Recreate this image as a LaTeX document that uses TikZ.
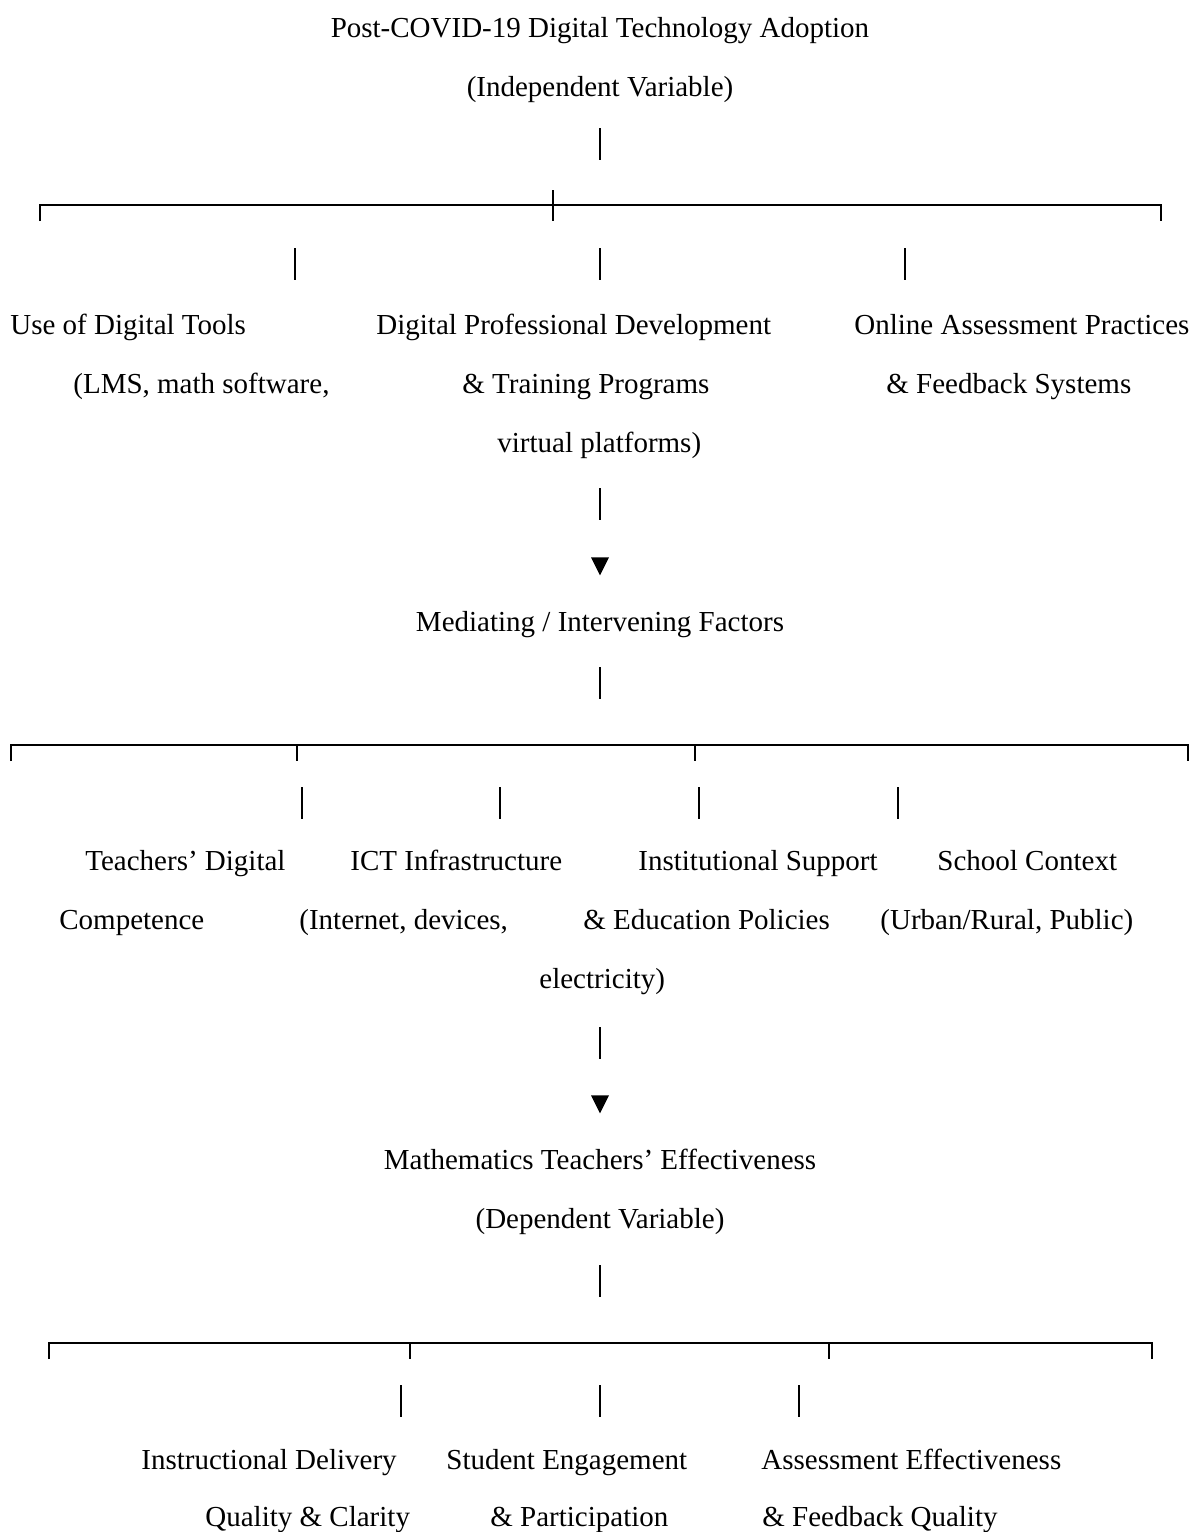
\documentclass[tikz,border=0pt]{standalone}
\usepackage{fontspec}
\setmainfont{Liberation Serif}
\usetikzlibrary{shapes.geometric}

\tikzset{
  txt/.style={inner sep=0pt, font=\fontsize{14.5}{17}\selectfont},
  lbl/.style={txt, anchor=base west},
  ctr/.style={txt, anchor=base},
  bar/.style={line width=1.1pt},
  rail/.style={line width=1.2pt},
  tip/.style={isosceles triangle, isosceles triangle stretches,
    shape border rotate=-90, fill=black, inner sep=0pt,
    minimum width=9pt, minimum height=9pt}
}

\begin{document}
\begin{tikzpicture}[x=0.5pt, y=-0.5pt]
  \useasboundingbox (0,0) rectangle (1189,1532);

  % independent variable:
  \node(post)[ctr] at (600,37) {Post-COVID-19 Digital Technology Adoption};
  \node(indep)[ctr] at (600,96) {(Independent Variable)};
  \coordinate (b1t) at (600,128);
  \coordinate (b1b) at (600,160);
  \draw[bar] (b1t) -- (b1b);

  \coordinate (r1w) at (40,205);
  \coordinate (r1e) at (1161,205);
  \coordinate (r1m) at (553,205);
  \draw[rail] (r1w) ++(0,16) -- (r1w) -- (r1e) -- ++(0,16);
  \draw[rail] (r1m) ++(0,-15) -- ++(0,31);

  \foreach \x [count=\i] in {295,600,905} {
    \coordinate (u\i t) at (\x,248);
    \coordinate (u\i b) at (\x,280);
    \draw[bar] (u\i t) -- (u\i b);
  }

  \node(tools)[lbl] at (10,334) {Use of Digital Tools};
  \node(tools2)[lbl] at (73,393) {(LMS, math software,};
  \node(prof)[lbl] at (376,334) {Digital Professional Development};
  \node(prof2)[lbl] at (462,393) {\& Training Programs};
  \node(prof3)[lbl] at (497,452) {virtual platforms)};
  \node(online)[lbl] at (854,334) {Online Assessment Practices};
  \node(online2)[lbl] at (886,393) {\& Feedback Systems};

  \coordinate (b3t) at (600,488);
  \coordinate (b3b) at (600,520);
  \draw[bar] (b3t) -- (b3b);
  \node(tip1)[tip] at (600,563) {};

  % mediating factors:
  \node(med)[ctr] at (600,631) {Mediating / Intervening Factors};
  \coordinate (b4t) at (600,667);
  \coordinate (b4b) at (600,699);
  \draw[bar] (b4t) -- (b4b);

  \coordinate (r2w) at (11,745);
  \coordinate (r2e) at (1188,745);
  \draw[rail] (r2w) ++(0,16) -- (r2w) -- (r2e) -- ++(0,16);
  \foreach \x in {297,695} {
    \draw[rail] (\x,745) -- (\x,761);
  }

  \foreach \x [count=\i] in {302,500,699,898} {
    \coordinate (m\i t) at (\x,787);
    \coordinate (m\i b) at (\x,819);
    \draw[bar] (m\i t) -- (m\i b);
  }

  \node(comp1)[lbl] at (85,870) {Teachers’ Digital};
  \node(comp2)[lbl] at (59,929) {Competence};
  \node(ict1)[lbl] at (350,870) {ICT Infrastructure};
  \node(ict2)[lbl] at (299,929) {(Internet, devices,};
  \node(ict3)[lbl] at (539,988) {electricity)};
  \node(inst1)[lbl] at (638,870) {Institutional Support};
  \node(inst2)[lbl] at (583,929) {\& Education Policies};
  \node(ctx1)[lbl] at (937,870) {School Context};
  \node(ctx2)[lbl] at (880,929) {(Urban/Rural, Public)};

  \coordinate (b6t) at (600,1027);
  \coordinate (b6b) at (600,1059);
  \draw[bar] (b6t) -- (b6b);
  \node(tip2)[tip] at (600,1101) {};

  % dependent variable:
  \node(eff)[ctr] at (600,1169) {Mathematics Teachers’ Effectiveness};
  \node(dep)[ctr] at (600,1228) {(Dependent Variable)};
  \coordinate (b7t) at (600,1265);
  \coordinate (b7b) at (600,1297);
  \draw[bar] (b7t) -- (b7b);

  \coordinate (r3w) at (49,1343);
  \coordinate (r3e) at (1152,1343);
  \draw[rail] (r3w) ++(0,16) -- (r3w) -- (r3e) -- ++(0,16);
  \foreach \x in {410,829} {
    \draw[rail] (\x,1343) -- (\x,1359);
  }

  \foreach \x [count=\i] in {401,600,799} {
    \coordinate (d\i t) at (\x,1385);
    \coordinate (d\i b) at (\x,1417);
    \draw[bar] (d\i t) -- (d\i b);
  }

  \node(deliv1)[lbl] at (141,1469) {Instructional Delivery};
  \node(deliv2)[lbl] at (205,1526) {Quality \& Clarity};
  \node(engage1)[lbl] at (446,1469) {Student Engagement};
  \node(engage2)[lbl] at (490,1526) {\& Participation};
  \node(assess1)[lbl] at (761,1469) {Assessment Effectiveness};
  \node(assess2)[lbl] at (762,1526) {\& Feedback Quality};

\end{tikzpicture}
\end{document}
